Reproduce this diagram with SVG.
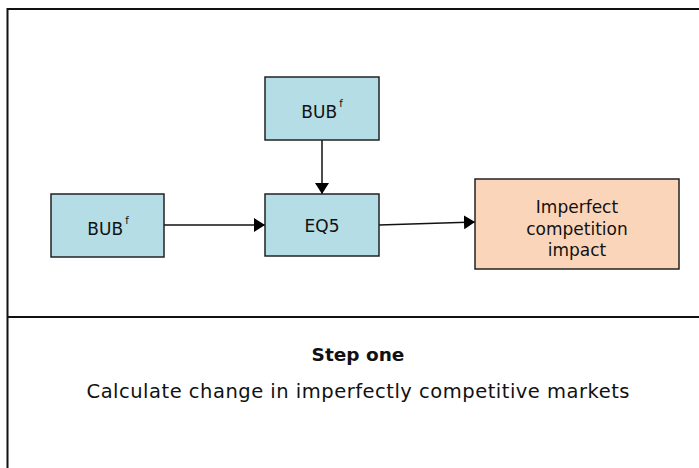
<svg xmlns="http://www.w3.org/2000/svg" width="699" height="468" viewBox="0 0 699 468">
  <style>
    .frame { fill: none; stroke: #111; stroke-width: 2; }
    .box { stroke: #222; stroke-width: 1.5; }
    .blue { fill: #b4dde6; }
    .peach { fill: #fbd5b9; }
    .lbl { font-family: "DejaVu Sans", "Liberation Sans", sans-serif; font-size: 17px; fill: #111; text-anchor: middle; }
    .sup { font-size: 10px; }
    .cap { font-family: "DejaVu Sans", "Liberation Sans", sans-serif; font-size: 19.5px; fill: #111; text-anchor: middle; }
    .bold { font-weight: bold; font-size: 18.5px; }
    .conn { stroke: #111; stroke-width: 1.5; fill: none; }
  </style>
  <defs>
    <marker id="arrow" markerUnits="userSpaceOnUse" markerWidth="11" markerHeight="14" refX="11" refY="7" orient="auto">
      <path d="M0,0 L11,7 L0,14 Z" fill="#000"/>
    </marker>
  </defs>

  <rect width="699" height="468" fill="#fff"/>

  <!-- outer panel with divider between diagram and caption -->
  <g id="panel">
    <rect class="frame" x="7.5" y="9" width="720" height="480"/>
    <line class="frame" x1="7.5" y1="317" x2="699" y2="317"/>
  </g>

  <g id="connectors">
    <line class="conn" x1="322" y1="140" x2="322" y2="194" marker-end="url(#arrow)"/>
    <line class="conn" x1="164" y1="225" x2="265" y2="225" marker-end="url(#arrow)"/>
    <line class="conn" x1="379" y1="225" x2="475" y2="222" marker-end="url(#arrow)"/>
  </g>

  <g id="bub-top">
    <rect class="box blue" x="265" y="77" width="114" height="63"/>
    <text class="lbl" x="322" y="118">BUB<tspan class="sup" dx="2" dy="-11">f</tspan></text>
  </g>

  <g id="bub-left">
    <rect class="box blue" x="51" y="194" width="113" height="63"/>
    <text class="lbl" x="108" y="235">BUB<tspan class="sup" dx="2" dy="-11">f</tspan></text>
  </g>

  <g id="eq5">
    <rect class="box blue" x="265" y="194" width="114" height="62"/>
    <text class="lbl" x="322" y="232">EQ5</text>
  </g>

  <g id="impact">
    <rect class="box peach" x="475" y="179" width="204" height="90"/>
    <text class="lbl" x="577" y="213">Imperfect</text>
    <text class="lbl" x="577" y="234.5">competition</text>
    <text class="lbl" x="577" y="256">impact</text>
  </g>

  <g id="caption">
    <text class="cap bold" x="358" y="361">Step one</text>
    <text class="cap" x="358" y="398" textLength="543" lengthAdjust="spacing">Calculate change in imperfectly competitive markets</text>
  </g>
</svg>
